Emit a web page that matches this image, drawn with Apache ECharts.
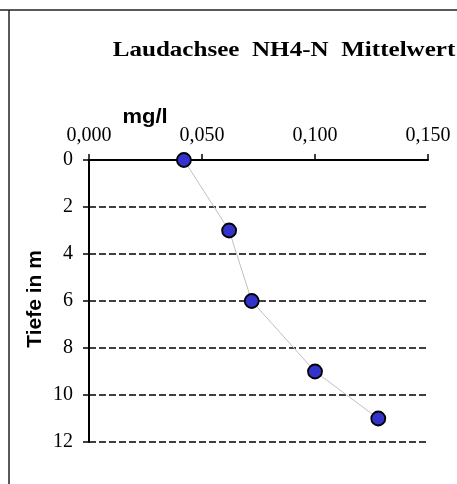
<!DOCTYPE html>
<html>
<head>
<meta charset="utf-8">
<script src="https://cdn.jsdelivr.net/npm/echarts@6/dist/echarts.min.js"></script>
<style>
html,body{margin:0;padding:0;background:#fff;}
#chart{width:457px;height:484px;}
</style>
</head>
<body>
<div id="chart"></div>
<script>
// Data
var depths = [0, 3, 6, 9, 11];                 // Tiefe in m
var nh4n = [0.042, 0.062, 0.072, 0.100, 0.128]; // NH4-N mg/l
var xTicks = [0, 0.05, 0.10, 0.15];
var yTicks = [0, 2, 4, 6, 8, 10, 12];
var titleText = 'Laudachsee  NH4-N  Mittelwert';
var xUnit = 'mg/l';
var yName = 'Tiefe in m';

var points = nh4n.map(function (v, i) { return [v, depths[i]]; });

var chart = echarts.init(document.getElementById('chart'), null, {renderer: 'canvas'});
var serif = '"Liberation Serif", "Times New Roman", serif';
var sans = '"Liberation Sans", Arial, sans-serif';

chart.setOption({
  animation: false,
  backgroundColor: '#ffffff',
  grid: {left: 89, top: 160, right: 29, bottom: 42, containLabel: false},
  xAxis: {
    type: 'value',
    position: 'top',
    min: xTicks[0],
    max: xTicks[xTicks.length - 1],
    interval: 0.05,
    axisLine: {show: true, onZero: false, lineStyle: {color: '#000', width: 2}},
    axisTick: {show: true, inside: false, length: 6, lineStyle: {color: '#000', width: 1.5}},
    axisLabel: {
      margin: 14,
      color: '#000',
      fontFamily: serif,
      fontSize: 20,
      formatter: function (v) { return v.toFixed(3).replace('.', ','); }
    },
    splitLine: {show: false}
  },
  yAxis: {
    type: 'value',
    inverse: true,
    min: yTicks[0],
    max: yTicks[yTicks.length - 1],
    interval: 2,
    axisLine: {show: true, onZero: false, lineStyle: {color: '#000', width: 2}},
    axisTick: {show: true, inside: false, length: 6, lineStyle: {color: '#000', width: 1.5}},
    axisLabel: {
      margin: 16,
      color: '#000',
      fontFamily: serif,
      fontSize: 20
    },
    splitLine: {show: true, lineStyle: {color: '#000', width: 1.5, type: [7, 3]}}
  },
  series: [{
    type: 'line',
    data: points,
    symbol: 'circle',
    symbolSize: 14,
    lineStyle: {color: '#c0c0c0', width: 1},
    itemStyle: {color: '#3333cc', borderColor: '#000', borderWidth: 1.8},
    z: 5
  }],
  graphic: [
    {type: 'line', shape: {x1: 0, y1: 10, x2: 457, y2: 10}, style: {stroke: '#222', lineWidth: 1.5}},
    {type: 'line', shape: {x1: 9, y1: 10, x2: 9, y2: 484}, style: {stroke: '#222', lineWidth: 1.5}},
    {
      type: 'text', x: 284, y: 50, scaleX: 1.14,
      style: {
        text: titleText, fill: '#000',
        font: 'bold 22px ' + serif,
        textAlign: 'center', textVerticalAlign: 'middle',
        align: 'center', verticalAlign: 'middle'
      }
    },
    {
      type: 'text', x: 145, y: 117, scaleX: 1.1,
      style: {
        text: xUnit, fill: '#000',
        font: 'bold 20px ' + sans,
        textAlign: 'center', textVerticalAlign: 'middle',
        align: 'center', verticalAlign: 'middle'
      }
    },
    {
      type: 'text', x: 35, y: 299, rotation: Math.PI / 2,
      style: {
        text: yName, fill: '#000',
        font: 'bold 21px ' + sans,
        textAlign: 'center', textVerticalAlign: 'middle',
        align: 'center', verticalAlign: 'middle'
      }
    }
  ]
});
</script>
</body>
</html>
